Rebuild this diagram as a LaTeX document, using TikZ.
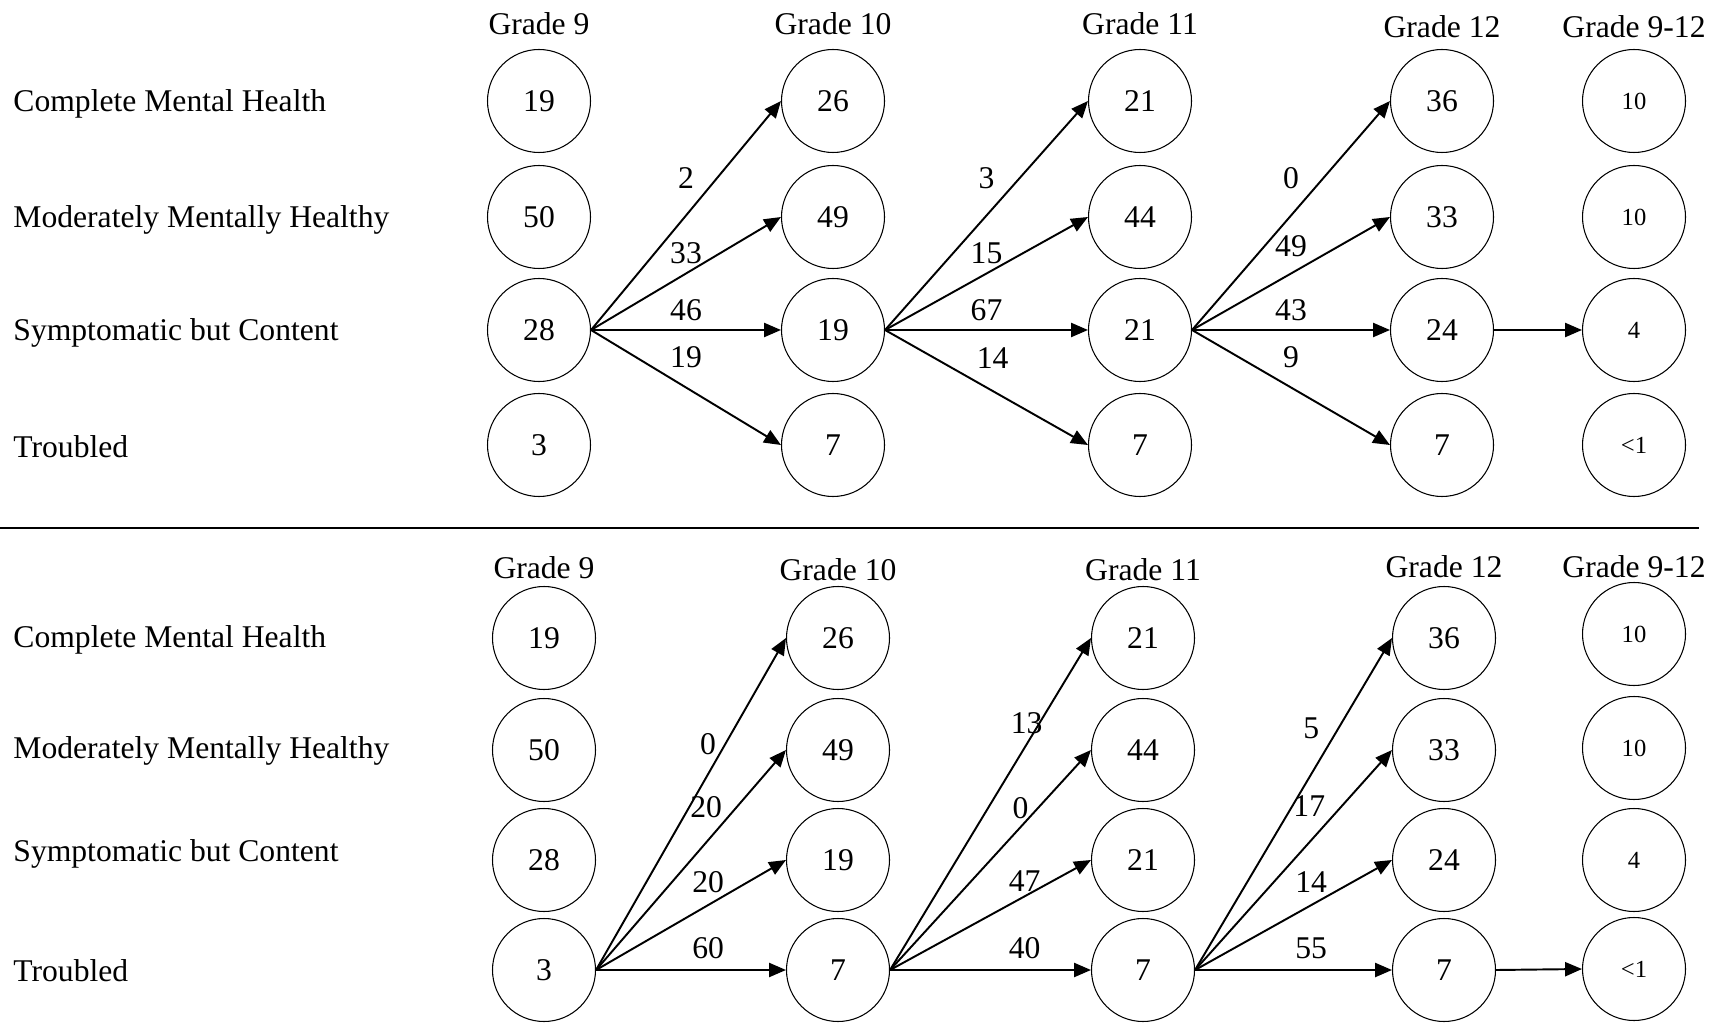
\documentclass[tikz,border=0pt]{standalone}
\usepackage{fontspec}
\setmainfont{Liberation Serif}
\usetikzlibrary{arrows.meta}
\begin{document}
\begin{tikzpicture}[
  every node/.style={font=\fontsize{9}{11}\selectfont},
  state/.style={draw, circle, minimum size=1.03cm, inner sep=0pt, line width=.3pt},
  small/.style={font=\fontsize{7}{8}\selectfont},
  flow/.style={-{Triangle[length=4.8pt,width=4pt]}, line width=.55pt}]
  \useasboundingbox (0,0) rectangle (17.15,-10.34);
  % upper panel
  \path (0.01,-1.04) node[right] (ua) {Complete Mental Health} (0.01,-2.2) node[right] (ub) {Moderately Mentally Healthy}
        (0.01,-3.33) node[right] (uc) {Symptomatic but Content} (0.01,-4.47) node[right] (ud) {Troubled};
  \path (5.39,-0.24) node (uh9) {Grade 9} (8.33,-0.24) node (uh10) {Grade 10} (11.40,-0.24) node (uh11) {Grade 11}
        (14.42,-0.27) node (uh12) {Grade 12} (16.34,-0.27) node (uh912) {Grade 9-12};
  \path (5.39,-1.01) node[state] (u9a) {19} (5.39,-2.17) node[state] (u9b) {50} (5.39,-3.30) node[state] (u9c) {28} (5.39,-4.45) node[state] (u9d) {3};
  \path (8.33,-1.01) node[state] (u10a) {26} (8.33,-2.17) node[state] (u10b) {49} (8.33,-3.30) node[state] (u10c) {19} (8.33,-4.45) node[state] (u10d) {7};
  \path (11.40,-1.01) node[state] (u11a) {21} (11.40,-2.17) node[state] (u11b) {44} (11.40,-3.30) node[state] (u11c) {21} (11.40,-4.45) node[state] (u11d) {7};
  \path (14.42,-1.01) node[state] (u12a) {36} (14.42,-2.17) node[state] (u12b) {33} (14.42,-3.30) node[state] (u12c) {24} (14.42,-4.45) node[state] (u12d) {7};
  \path (16.34,-1.01) node[state,small] (u912a) {10} (16.34,-2.17) node[state,small] (u912b) {10} (16.34,-3.30) node[state,small] (u912c) {4} (16.34,-4.45) node[state,small] (u912d) {<1};
  \draw[flow] (u9c.east) -- (u10a.west) node[pos=.5,yshift=10.6pt] (ux1) {2};
  \draw[flow] (u9c.east) -- (u10b.west) node[pos=.5,yshift=5.9pt] (ux2) {33};
  \draw[flow] (u9c.east) -- (u10c.west) node[pos=.5,yshift=5.6pt] (ux3) {46};
  \draw[flow] (u9c.east) -- (u10d.west) node[pos=.5,yshift=8.6pt] (ux4) {19};
  \draw[flow] (u10c.east) -- (u11a.west) node[pos=.5,yshift=10.6pt] (uy1) {3};
  \draw[flow] (u10c.east) -- (u11b.west) node[pos=.5,yshift=5.9pt] (uy2) {15};
  \draw[flow] (u10c.east) -- (u11c.west) node[pos=.5,yshift=5.6pt] (uy3) {67};
  \draw[flow] (u10c.east) -- (u11d.west) node[pos=.53,yshift=9.5pt] (uy4) {14};
  \draw[flow] (u11c.east) -- (u12a.west) node[pos=.5,yshift=10.6pt] (uz1) {0};
  \draw[flow] (u11c.east) -- (u12b.west) node[pos=.5,yshift=7.8pt] (uz2) {49};
  \draw[flow] (u11c.east) -- (u12c.west) node[pos=.5,yshift=5.6pt] (uz3) {43};
  \draw[flow] (u11c.east) -- (u12d.west) node[pos=.5,yshift=8.6pt] (uz4) {9};
  \draw[flow] (u12c.east) -- (u912c.west);
  \draw[line width=.7pt] (0,-5.28) -- (16.99,-5.28);
  % lower panel
  \path (0.01,-6.4) node[right] (la) {Complete Mental Health} (0.01,-7.51) node[right] (lb) {Moderately Mentally Healthy}
        (0.01,-8.54) node[right] (lc) {Symptomatic but Content} (0.01,-9.71) node[right] (ld) {Troubled};
  \path (5.44,-5.68) node (lh9) {Grade 9} (8.38,-5.70) node (lh10) {Grade 10} (11.43,-5.70) node (lh11) {Grade 11}
        (14.44,-5.67) node (lh12) {Grade 12} (16.34,-5.67) node (lh912) {Grade 9-12};
  \path (5.44,-6.38) node[state] (l9a) {19} (5.44,-7.50) node[state] (l9b) {50} (5.44,-8.60) node[state] (l9c) {28} (5.44,-9.70) node[state] (l9d) {3};
  \path (8.38,-6.38) node[state] (l10a) {26} (8.38,-7.50) node[state] (l10b) {49} (8.38,-8.60) node[state] (l10c) {19} (8.38,-9.70) node[state] (l10d) {7};
  \path (11.43,-6.38) node[state] (l11a) {21} (11.43,-7.50) node[state] (l11b) {44} (11.43,-8.60) node[state] (l11c) {21} (11.43,-9.70) node[state] (l11d) {7};
  \path (14.44,-6.38) node[state] (l12a) {36} (14.44,-7.50) node[state] (l12b) {33} (14.44,-8.60) node[state] (l12c) {24} (14.44,-9.70) node[state] (l12d) {7};
  \path (16.34,-6.34) node[state,small] (l912a) {10} (16.34,-7.48) node[state,small] (l912b) {10} (16.34,-8.60) node[state,small] (l912c) {4} (16.34,-9.69) node[state,small] (l912d) {<1};
  \draw[flow] (l9d.east) -- (l10a.west) node[pos=.59,yshift=8.5pt] (lx1) {0};
  \draw[flow] (l9d.east) -- (l10b.west) node[pos=.58,yshift=9.9pt] (lx2) {20};
  \draw[flow] (l9d.east) -- (l10c.west) node[pos=.59,yshift=6.5pt] (lx3) {20};
  \draw[flow] (l9d.east) -- (l10d.west) node[pos=.59,yshift=6.2pt] (lx4) {60};
  \draw[flow] (l10d.east) -- (l11a.west) node[pos=.68,yshift=6.1pt] (ly1) {13};
  \draw[flow] (l10d.east) -- (l11b.west) node[pos=.65,yshift=5.4pt] (ly2) {0};
  \draw[flow] (l10d.east) -- (l11c.west) node[pos=.67,yshift=4.3pt] (ly3) {47};
  \draw[flow] (l10d.east) -- (l11d.west) node[pos=.67,yshift=6.2pt] (ly4) {40};
  \draw[flow] (l11d.east) -- (l12a.west) node[pos=.59,yshift=12.9pt] (lz1) {5};
  \draw[flow] (l11d.east) -- (l12b.west) node[pos=.58,yshift=10.2pt] (lz2) {17};
  \draw[flow] (l11d.east) -- (l12c.west) node[pos=.59,yshift=6.5pt] (lz3) {14};
  \draw[flow] (l11d.east) -- (l12d.west) node[pos=.59,yshift=6.2pt] (lz4) {55};
  \draw[flow] (l12d.east) -- (l912d.west);
\end{tikzpicture}
\end{document}
